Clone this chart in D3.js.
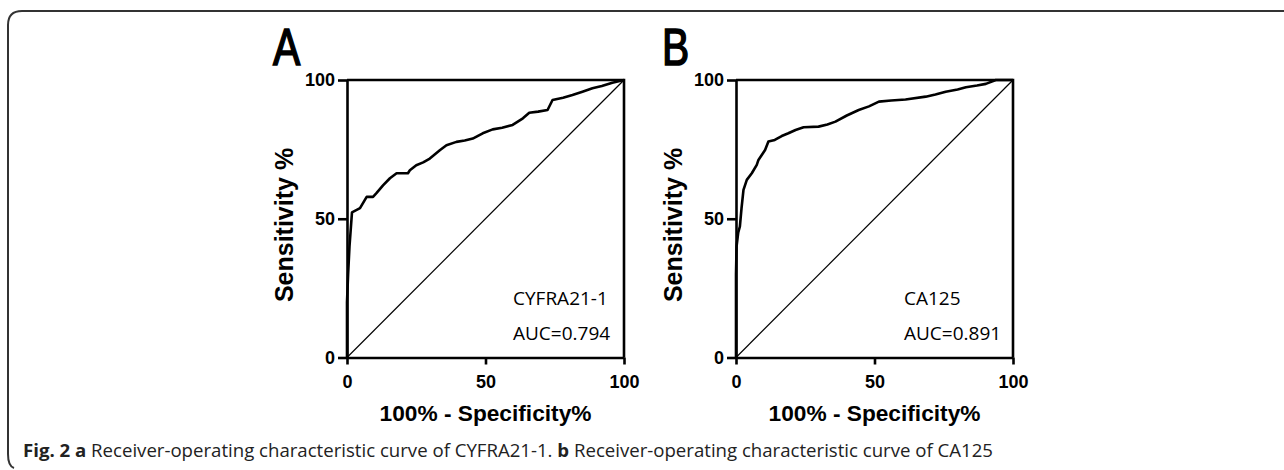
<!DOCTYPE html>
<html>
<head>
<meta charset="utf-8">
<script src="https://cdn.jsdelivr.net/npm/d3@7"></script>
<style>
  body { margin: 0; background: #fff; }
  svg { display: block; }
  .tick text { font-family: "Liberation Sans", Arial, sans-serif; font-weight: bold; font-size: 18px; fill: #000; }
</style>
</head>
<body>
<div id="chart"></div>
<script>

// ROC curve A: CYFRA21-1 (100% - specificity, sensitivity)
const rocAX = [0, 0, 0.4, 0.9, 1.8, 4.7, 7.1, 9.4, 10.7, 13, 15.5, 17.9, 22, 22.7, 25, 27.5, 29.9, 33.5, 35.9, 39.5, 42.5, 45.4, 49, 52.6, 56, 59.8, 63.5, 65.8, 69, 72.4, 74.2, 78, 81.4, 85, 88.6, 92, 95.8, 100];
const rocAY = [0, 20, 30, 40, 52.3, 53.8, 57.9, 57.9, 59.3, 62, 64.6, 66.4, 66.4, 67.5, 69.3, 70.3, 71.7, 74.7, 76.5, 77.7, 78.2, 78.9, 80.8, 82.2, 82.8, 83.8, 86.2, 88.2, 88.6, 89.2, 92.8, 93.6, 94.6, 95.8, 97, 97.8, 99, 100];

// ROC curve B: CA125
const rocBX = [0, 0, 0.2, 0.8, 1.4, 2, 2.7, 3.9, 5.7, 7.5, 8.1, 9.3, 10.5, 11.7, 14, 16.5, 18.9, 21.5, 24.4, 29.8, 33, 35.9, 40, 44.3, 48, 51.6, 56, 61.2, 68.5, 72, 75.7, 80, 83, 87, 90.2, 93.8, 100];
const rocBY = [0, 30, 40, 45, 47.2, 53.8, 60.4, 64, 66.4, 69.4, 71.2, 73, 74.8, 77.8, 78.4, 79.8, 80.8, 82, 83, 83.2, 84, 85, 87.2, 89.2, 90.5, 92.2, 92.6, 93, 94, 94.8, 95.8, 96.6, 97.4, 98, 98.6, 100, 100];

const panelLetters = ["A", "B"];
const markerNames = ["CYFRA21-1", "CA125"];
const aucLabels = ["AUC=0.794", "AUC=0.891"];
const tickValues = [0, 50, 100];

const xLabel = "100% - Specificity%";
const yLabel = "Sensitivity %";

const width = 1284, height = 470;

const svg = d3.select("#chart").append("svg")
    .attr("width", width)
    .attr("height", height);

// outer frame (top and left edge with rounded corner)
svg.append("path")
    .attr("d", "M1284,11 H22 Q8,11 8,25 V454 Q8,466 14,468")
    .attr("fill", "none")
    .attr("stroke", "#333")
    .attr("stroke-width", 2);

const panels = [
    { left: 347, xs: rocAX, ys: rocAY, labelX: 513 },
    { left: 736, xs: rocBX, ys: rocBY, labelX: 904 }
];

panels.forEach((p, i) => {
    let g = svg.append("g");

    let x = d3.scaleLinear().domain([0, 100]).range([p.left, p.left + 277]);
    let y = d3.scaleLinear().domain([0, 100]).range([357.5, 80]);

    // panel letter
    g.append("text")
        .attr("transform", "translate(" + (p.left - 74) + ",65) scale(0.8,1)")
        .style("font-family", "Liberation Sans, Arial, sans-serif")
        .style("font-size", "51px")
        .attr("stroke", "#000")
        .attr("stroke-width", 1.6)
        .text(panelLetters[i]);

    // diagonal reference line
    g.append("line")
        .attr("x1", x(0)).attr("y1", y(0))
        .attr("x2", x(100)).attr("y2", y(100))
        .attr("stroke", "#000")
        .attr("stroke-width", 1.2);

    // box top and right
    g.append("path")
        .attr("d", "M" + x(0) + "," + y(100) + "H" + x(100) + "V" + y(0))
        .attr("fill", "none")
        .attr("stroke", "#000")
        .attr("stroke-width", 2.6);

    // axes
    let xAxis = d3.axisBottom(x).tickValues(tickValues).tickSize(7).tickPadding(11).tickSizeOuter(0);
    let yAxis = d3.axisLeft(y).tickValues(tickValues).tickSize(9).tickPadding(3).tickSizeOuter(0);

    g.append("g")
        .attr("class", "axis x-axis")
        .attr("transform", "translate(0," + y(0) + ")")
        .call(xAxis);

    g.append("g")
        .attr("class", "axis y-axis")
        .attr("transform", "translate(" + x(0) + ",0)")
        .call(yAxis);

    g.selectAll(".axis path, .axis line")
        .attr("stroke", "#000")
        .attr("stroke-width", 2.6);

    // ROC curve
    let line = d3.line()
        .x((d, k) => x(p.xs[k]))
        .y((d, k) => y(p.ys[k]));

    g.append("path")
        .attr("d", line(p.xs))
        .attr("fill", "none")
        .attr("stroke", "#000")
        .attr("stroke-width", 2.6)
        .attr("stroke-linejoin", "round");

    // axis titles
    g.append("text")
        .attr("x", x(50))
        .attr("y", 421)
        .style("text-anchor", "middle")
        .style("font-family", "Liberation Sans, Arial, sans-serif")
        .style("font-weight", "bold")
        .style("font-size", "22.7px")
        .text(xLabel);

    g.append("text")
        .attr("transform", "translate(" + (x(0) - 54) + "," + 225 + ") rotate(-90)")
        .style("text-anchor", "middle")
        .style("font-family", "Liberation Sans, Arial, sans-serif")
        .style("font-weight", "bold")
        .style("font-size", "25px")
        .text(yLabel);

    // legend texts
    g.append("text")
        .attr("x", p.labelX)
        .attr("y", 305)
        .style("font-family", "Open Sans, sans-serif")
        .style("font-size", "19px")
        .text(markerNames[i]);

    g.append("text")
        .attr("x", p.labelX)
        .attr("y", 340)
        .style("font-family", "Open Sans, sans-serif")
        .style("font-size", "19px")
        .text(aucLabels[i]);
});

// caption
const caption = svg.append("text")
    .attr("x", 23)
    .attr("y", 457)
    .attr("textLength", 970)
    .attr("lengthAdjust", "spacingAndGlyphs")
    .style("font-family", "Open Sans, sans-serif")
    .style("font-size", "17.5px")
    .attr("fill", "#222");

caption.append("tspan").style("font-weight", "bold").text("Fig. 2 a");
caption.append("tspan").text(" Receiver-operating characteristic curve of CYFRA21-1. ");
caption.append("tspan").style("font-weight", "bold").text("b");
caption.append("tspan").text(" Receiver-operating characteristic curve of CA125");

</script>
</body>
</html>
